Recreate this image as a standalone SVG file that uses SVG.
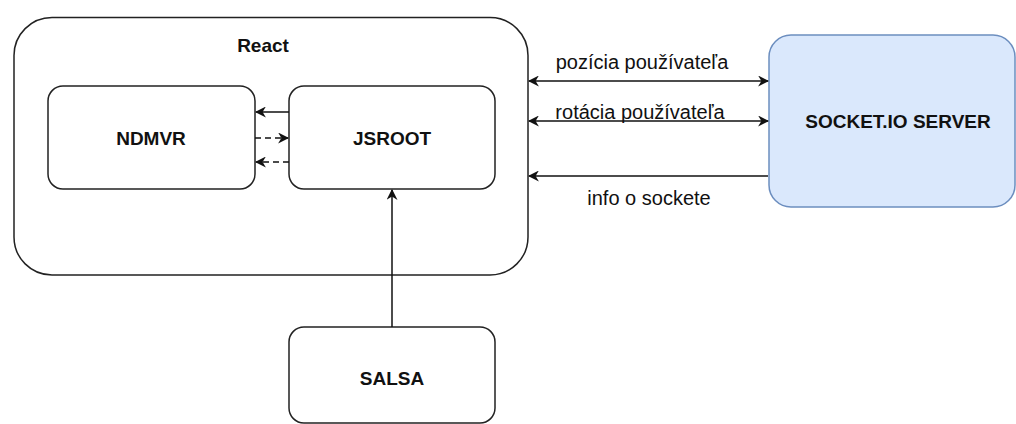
<svg xmlns="http://www.w3.org/2000/svg" width="1016" height="424" viewBox="0 0 1016 424">
<style>
.box{fill:#fff;stroke:#222;stroke-width:1.5}
.srv{fill:#dae8fc;stroke:#6c8ebf;stroke-width:1.5}
.t{font-family:"Liberation Sans",Arial,sans-serif;font-weight:bold;font-size:19px;fill:#111;text-anchor:middle}
.l{font-family:"Liberation Sans",Arial,sans-serif;font-size:20px;fill:#111;text-anchor:middle}
.c{stroke:#111;stroke-width:1.5;fill:none}
.d{stroke-dasharray:6 4}
</style>
<defs>
<marker id="ah" viewBox="0 0 10 10" refX="9" refY="5" markerWidth="11" markerHeight="11" markerUnits="userSpaceOnUse" orient="auto-start-reverse">
<path d="M0,0 L10,5 L0,10 L3,5 Z" fill="#111"/>
</marker>
</defs>
<g id="react"><rect class="box" x="14" y="17.5" width="514" height="257.5" rx="38"/><text class="t" x="263" y="52">React</text></g>
<g id="ndmvr"><rect class="box" x="48" y="86" width="207" height="103" rx="15"/><text class="t" x="151" y="145">NDMVR</text></g>
<g id="jsroot"><rect class="box" x="289" y="86" width="206" height="103" rx="15"/><text class="t" x="392" y="145">JSROOT</text></g>
<g id="salsa"><rect class="box" x="289" y="327" width="206" height="96" rx="15"/><text class="t" x="392" y="385">SALSA</text></g>
<g id="server"><rect class="srv" x="769" y="35" width="246" height="172" rx="22"/><text class="t" x="898" y="128">SOCKET.IO SERVER</text></g>
<g id="connectors">
<line class="c" x1="289" y1="112" x2="256" y2="112" marker-end="url(#ah)"/>
<line class="c d" x1="255" y1="138" x2="288" y2="138" marker-end="url(#ah)"/>
<line class="c d" x1="289" y1="162" x2="256" y2="162" marker-end="url(#ah)"/>
<line class="c" x1="392" y1="327" x2="392" y2="190" marker-end="url(#ah)"/>
<line class="c" x1="529" y1="81" x2="768" y2="81" marker-start="url(#ah)" marker-end="url(#ah)"/>
<line class="c" x1="529" y1="121" x2="768" y2="121" marker-start="url(#ah)" marker-end="url(#ah)"/>
<line class="c" x1="768" y1="176" x2="529" y2="176" marker-end="url(#ah)"/>
<text class="l" x="642" y="69">pozícia používateľa</text>
<text class="l" x="640" y="119">rotácia používateľa</text>
<text class="l" x="649" y="205">info o sockete</text>
</g>
</svg>
